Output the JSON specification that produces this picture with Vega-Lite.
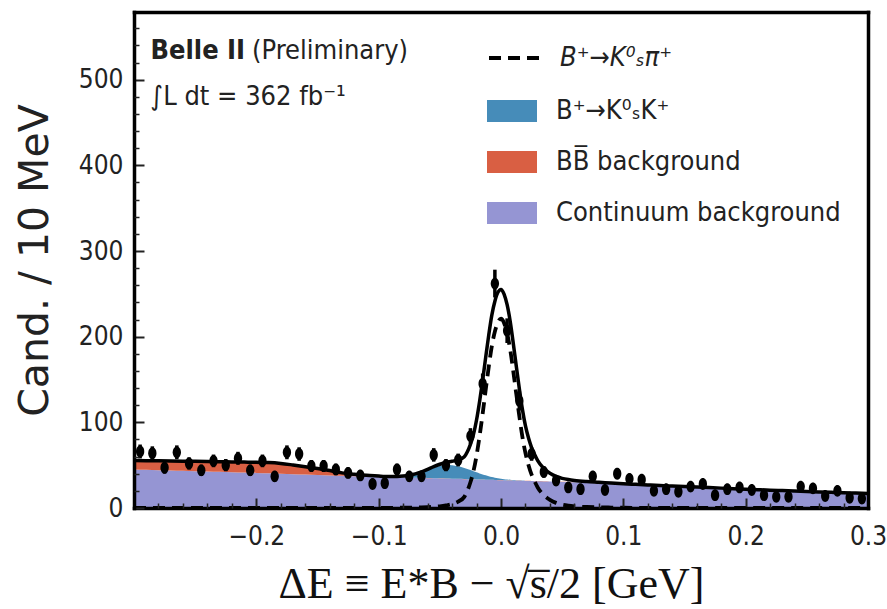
{
  "$schema": "https://vega.github.io/schema/vega-lite/v6.json",
  "width": 734,
  "height": 496,
  "autosize": "none",
  "padding": {"left": 134, "top": 12, "right": 19, "bottom": 101},
  "background": "white",
  "config": {"view": {"stroke": null}},
  "datasets": {
    "curves": [
      {"x": -0.30, "cont": 45.0, "bb": 55.5, "kk": 55.5, "sig": 0, "tot": 55.5},
      {"x": -0.29, "cont": 44.6, "bb": 55.3, "kk": 55.3, "sig": 0, "tot": 55.3},
      {"x": -0.28, "cont": 44.2, "bb": 55.1, "kk": 55.1, "sig": 0, "tot": 55.1},
      {"x": -0.27, "cont": 43.8, "bb": 54.9, "kk": 54.9, "sig": 0, "tot": 54.9},
      {"x": -0.26, "cont": 43.4, "bb": 54.7, "kk": 54.7, "sig": 0, "tot": 54.7},
      {"x": -0.25, "cont": 43.0, "bb": 54.5, "kk": 54.5, "sig": 0, "tot": 54.5},
      {"x": -0.24, "cont": 42.6, "bb": 54.3, "kk": 54.3, "sig": 0, "tot": 54.3},
      {"x": -0.23, "cont": 42.2, "bb": 54.1, "kk": 54.1, "sig": 0, "tot": 54.1},
      {"x": -0.22, "cont": 41.8, "bb": 53.8, "kk": 53.8, "sig": 0, "tot": 53.8},
      {"x": -0.21, "cont": 41.4, "bb": 53.6, "kk": 53.6, "sig": 0, "tot": 53.6},
      {"x": -0.20, "cont": 41.0, "bb": 53.3, "kk": 53.3, "sig": 0, "tot": 53.3},
      {"x": -0.19, "cont": 40.5, "bb": 53.0, "kk": 53.0, "sig": 0, "tot": 53.0},
      {"x": -0.18, "cont": 40.0, "bb": 52.0, "kk": 52.0, "sig": 0, "tot": 52.0},
      {"x": -0.17, "cont": 39.5, "bb": 50.2, "kk": 50.2, "sig": 0, "tot": 50.2},
      {"x": -0.16, "cont": 39.0, "bb": 48.2, "kk": 48.2, "sig": 0, "tot": 48.2},
      {"x": -0.15, "cont": 38.5, "bb": 46.0, "kk": 46.0, "sig": 0, "tot": 46.0},
      {"x": -0.14, "cont": 38.0, "bb": 43.8, "kk": 43.8, "sig": 0, "tot": 43.8},
      {"x": -0.13, "cont": 37.6, "bb": 41.0, "kk": 41.0, "sig": 0, "tot": 41.0},
      {"x": -0.12, "cont": 37.2, "bb": 39.4, "kk": 39.4, "sig": 0, "tot": 39.4},
      {"x": -0.11, "cont": 36.8, "bb": 38.1, "kk": 38.1, "sig": 0, "tot": 38.1},
      {"x": -0.10, "cont": 36.4, "bb": 37.2, "kk": 37.2, "sig": 0.1, "tot": 37.3},
      {"x": -0.095, "cont": 36.2, "bb": 36.8, "kk": 36.8, "sig": 0.1, "tot": 36.9},
      {"x": -0.09, "cont": 36.0, "bb": 36.5, "kk": 36.5, "sig": 0.2, "tot": 36.7},
      {"x": -0.085, "cont": 35.8, "bb": 36.2, "kk": 36.5, "sig": 0.25, "tot": 36.8},
      {"x": -0.08, "cont": 35.6, "bb": 35.9, "kk": 37.0, "sig": 0.3, "tot": 37.3},
      {"x": -0.075, "cont": 35.4, "bb": 35.7, "kk": 37.9, "sig": 0.4, "tot": 38.3},
      {"x": -0.07, "cont": 35.2, "bb": 35.4, "kk": 39.3, "sig": 0.5, "tot": 39.8},
      {"x": -0.065, "cont": 35.0, "bb": 35.2, "kk": 41.4, "sig": 0.7, "tot": 42.1},
      {"x": -0.06, "cont": 34.8, "bb": 35.0, "kk": 44.1, "sig": 1.0, "tot": 45.1},
      {"x": -0.055, "cont": 34.6, "bb": 34.8, "kk": 46.9, "sig": 1.4, "tot": 48.3},
      {"x": -0.05, "cont": 34.4, "bb": 34.6, "kk": 49.1, "sig": 2.0, "tot": 51.1},
      {"x": -0.045, "cont": 34.2, "bb": 34.4, "kk": 50.3, "sig": 3.0, "tot": 53.3},
      {"x": -0.04, "cont": 34.0, "bb": 34.2, "kk": 50.0, "sig": 4.5, "tot": 54.5},
      {"x": -0.035, "cont": 33.8, "bb": 34.0, "kk": 48.8, "sig": 7.5, "tot": 56.3},
      {"x": -0.03, "cont": 33.6, "bb": 33.8, "kk": 46.8, "sig": 13, "tot": 59.8},
      {"x": -0.0275, "cont": 33.5, "bb": 33.7, "kk": 45.6, "sig": 20, "tot": 65.6},
      {"x": -0.025, "cont": 33.4, "bb": 33.6, "kk": 44.3, "sig": 30, "tot": 74.3},
      {"x": -0.0225, "cont": 33.3, "bb": 33.5, "kk": 43.0, "sig": 43, "tot": 86.0},
      {"x": -0.02, "cont": 33.2, "bb": 33.4, "kk": 41.7, "sig": 61, "tot": 102.7},
      {"x": -0.0175, "cont": 33.1, "bb": 33.3, "kk": 40.4, "sig": 84, "tot": 124.4},
      {"x": -0.015, "cont": 33.0, "bb": 33.2, "kk": 39.2, "sig": 110, "tot": 149.2},
      {"x": -0.0125, "cont": 32.9, "bb": 33.1, "kk": 38.1, "sig": 138, "tot": 176.1},
      {"x": -0.01, "cont": 32.8, "bb": 33.0, "kk": 37.1, "sig": 165, "tot": 202.1},
      {"x": -0.0075, "cont": 32.7, "bb": 32.9, "kk": 36.2, "sig": 189, "tot": 225.2},
      {"x": -0.005, "cont": 32.6, "bb": 32.8, "kk": 35.4, "sig": 206, "tot": 241.4},
      {"x": -0.0025, "cont": 32.5, "bb": 32.7, "kk": 34.8, "sig": 217, "tot": 251.8},
      {"x": 0.0, "cont": 32.4, "bb": 32.6, "kk": 34.2, "sig": 221, "tot": 255.2},
      {"x": 0.0025, "cont": 32.3, "bb": 32.5, "kk": 33.7, "sig": 216, "tot": 249.7},
      {"x": 0.005, "cont": 32.2, "bb": 32.4, "kk": 33.3, "sig": 204, "tot": 237.3},
      {"x": 0.0075, "cont": 32.1, "bb": 32.3, "kk": 33.0, "sig": 185, "tot": 218.0},
      {"x": 0.01, "cont": 32.0, "bb": 32.2, "kk": 32.7, "sig": 160, "tot": 192.7},
      {"x": 0.0125, "cont": 31.9, "bb": 32.1, "kk": 32.5, "sig": 133, "tot": 165.5},
      {"x": 0.015, "cont": 31.8, "bb": 32.0, "kk": 32.3, "sig": 107, "tot": 139.3},
      {"x": 0.0175, "cont": 31.7, "bb": 31.9, "kk": 32.1, "sig": 83, "tot": 115.1},
      {"x": 0.02, "cont": 31.6, "bb": 31.8, "kk": 31.9, "sig": 64, "tot": 95.9},
      {"x": 0.0225, "cont": 31.5, "bb": 31.7, "kk": 31.7, "sig": 50, "tot": 81.7},
      {"x": 0.025, "cont": 31.4, "bb": 31.6, "kk": 31.6, "sig": 39, "tot": 70.6},
      {"x": 0.0275, "cont": 31.3, "bb": 31.5, "kk": 31.5, "sig": 31, "tot": 62.5},
      {"x": 0.03, "cont": 31.2, "bb": 31.4, "kk": 31.4, "sig": 24, "tot": 55.4},
      {"x": 0.035, "cont": 31.0, "bb": 31.2, "kk": 31.2, "sig": 15, "tot": 46.2},
      {"x": 0.04, "cont": 30.8, "bb": 31.0, "kk": 31.0, "sig": 9.5, "tot": 40.5},
      {"x": 0.045, "cont": 30.6, "bb": 30.8, "kk": 30.8, "sig": 6, "tot": 36.8},
      {"x": 0.05, "cont": 30.4, "bb": 30.6, "kk": 30.6, "sig": 4, "tot": 34.6},
      {"x": 0.055, "cont": 30.2, "bb": 30.4, "kk": 30.4, "sig": 2.8, "tot": 33.2},
      {"x": 0.06, "cont": 30.0, "bb": 30.2, "kk": 30.2, "sig": 2.0, "tot": 32.2},
      {"x": 0.07, "cont": 29.5, "bb": 29.7, "kk": 29.7, "sig": 1.2, "tot": 30.9},
      {"x": 0.08, "cont": 29.0, "bb": 29.2, "kk": 29.2, "sig": 0.8, "tot": 30.0},
      {"x": 0.09, "cont": 28.4, "bb": 28.6, "kk": 28.6, "sig": 0.5, "tot": 29.1},
      {"x": 0.10, "cont": 27.8, "bb": 28.0, "kk": 28.0, "sig": 0.3, "tot": 28.3},
      {"x": 0.11, "cont": 27.2, "bb": 27.4, "kk": 27.4, "sig": 0.2, "tot": 27.6},
      {"x": 0.12, "cont": 26.6, "bb": 26.8, "kk": 26.8, "sig": 0.1, "tot": 26.9},
      {"x": 0.13, "cont": 26.0, "bb": 26.2, "kk": 26.2, "sig": 0, "tot": 26.2},
      {"x": 0.14, "cont": 25.4, "bb": 25.6, "kk": 25.6, "sig": 0, "tot": 25.6},
      {"x": 0.15, "cont": 24.8, "bb": 25.0, "kk": 25.0, "sig": 0, "tot": 25.0},
      {"x": 0.16, "cont": 24.2, "bb": 24.4, "kk": 24.4, "sig": 0, "tot": 24.4},
      {"x": 0.17, "cont": 23.6, "bb": 23.8, "kk": 23.8, "sig": 0, "tot": 23.8},
      {"x": 0.18, "cont": 23.0, "bb": 23.2, "kk": 23.2, "sig": 0, "tot": 23.2},
      {"x": 0.19, "cont": 22.4, "bb": 22.6, "kk": 22.6, "sig": 0, "tot": 22.6},
      {"x": 0.20, "cont": 21.8, "bb": 22.0, "kk": 22.0, "sig": 0, "tot": 22.0},
      {"x": 0.21, "cont": 21.2, "bb": 21.4, "kk": 21.4, "sig": 0, "tot": 21.4},
      {"x": 0.22, "cont": 20.6, "bb": 20.8, "kk": 20.8, "sig": 0, "tot": 20.8},
      {"x": 0.23, "cont": 20.1, "bb": 20.3, "kk": 20.3, "sig": 0, "tot": 20.3},
      {"x": 0.24, "cont": 19.6, "bb": 19.8, "kk": 19.8, "sig": 0, "tot": 19.8},
      {"x": 0.25, "cont": 19.1, "bb": 19.3, "kk": 19.3, "sig": 0, "tot": 19.3},
      {"x": 0.26, "cont": 18.6, "bb": 18.8, "kk": 18.8, "sig": 0, "tot": 18.8},
      {"x": 0.27, "cont": 18.1, "bb": 18.3, "kk": 18.3, "sig": 0, "tot": 18.3},
      {"x": 0.28, "cont": 17.6, "bb": 17.8, "kk": 17.8, "sig": 0, "tot": 17.8},
      {"x": 0.29, "cont": 17.2, "bb": 17.4, "kk": 17.4, "sig": 0, "tot": 17.4},
      {"x": 0.30, "cont": 16.8, "bb": 17.0, "kk": 17.0, "sig": 0, "tot": 17.0}
    ],
    "bins": [
      {"x": -0.295, "n": 66, "e": 8.1}, {"x": -0.285, "n": 64, "e": 8.0},
      {"x": -0.275, "n": 47, "e": 6.9}, {"x": -0.265, "n": 65, "e": 8.1},
      {"x": -0.255, "n": 52, "e": 7.2}, {"x": -0.245, "n": 44, "e": 6.6},
      {"x": -0.235, "n": 55, "e": 7.4}, {"x": -0.225, "n": 50, "e": 7.1},
      {"x": -0.215, "n": 58, "e": 7.6}, {"x": -0.205, "n": 44, "e": 6.6},
      {"x": -0.195, "n": 55, "e": 7.4}, {"x": -0.185, "n": 37, "e": 6.1},
      {"x": -0.175, "n": 65, "e": 8.1}, {"x": -0.165, "n": 63, "e": 7.9},
      {"x": -0.155, "n": 49, "e": 7.0}, {"x": -0.145, "n": 49, "e": 7.0},
      {"x": -0.135, "n": 45, "e": 6.7}, {"x": -0.125, "n": 41, "e": 6.4},
      {"x": -0.115, "n": 38, "e": 6.2}, {"x": -0.105, "n": 28, "e": 5.3},
      {"x": -0.095, "n": 29, "e": 5.4}, {"x": -0.085, "n": 45, "e": 6.7},
      {"x": -0.075, "n": 37, "e": 6.1}, {"x": -0.065, "n": 37, "e": 6.1},
      {"x": -0.055, "n": 62, "e": 7.9}, {"x": -0.045, "n": 50, "e": 7.1},
      {"x": -0.035, "n": 56, "e": 7.5}, {"x": -0.025, "n": 84, "e": 9.2},
      {"x": -0.015, "n": 145, "e": 12.0}, {"x": -0.005, "n": 262, "e": 16.2},
      {"x": 0.005, "n": 207, "e": 14.4}, {"x": 0.015, "n": 125, "e": 11.2},
      {"x": 0.025, "n": 63, "e": 7.9}, {"x": 0.035, "n": 42, "e": 6.5},
      {"x": 0.045, "n": 32, "e": 5.7}, {"x": 0.055, "n": 24, "e": 4.9},
      {"x": 0.065, "n": 22, "e": 4.7}, {"x": 0.075, "n": 37, "e": 6.1},
      {"x": 0.085, "n": 21, "e": 4.6}, {"x": 0.095, "n": 40, "e": 6.3},
      {"x": 0.105, "n": 34, "e": 5.8}, {"x": 0.115, "n": 33, "e": 5.7},
      {"x": 0.125, "n": 20, "e": 4.5}, {"x": 0.135, "n": 22, "e": 4.7},
      {"x": 0.145, "n": 19, "e": 4.4}, {"x": 0.155, "n": 25, "e": 5.0},
      {"x": 0.165, "n": 28, "e": 5.3}, {"x": 0.175, "n": 15, "e": 3.9},
      {"x": 0.185, "n": 22, "e": 4.7}, {"x": 0.195, "n": 24, "e": 4.9},
      {"x": 0.205, "n": 21, "e": 4.6}, {"x": 0.215, "n": 15, "e": 3.9},
      {"x": 0.225, "n": 13, "e": 3.6}, {"x": 0.235, "n": 13, "e": 3.6},
      {"x": 0.245, "n": 25, "e": 5.0}, {"x": 0.255, "n": 23, "e": 4.8},
      {"x": 0.265, "n": 14, "e": 3.7}, {"x": 0.275, "n": 20, "e": 4.5},
      {"x": 0.285, "n": 12, "e": 3.5}, {"x": 0.295, "n": 11, "e": 3.3}
    ],
    "labels": [
      {"part": "bold"}
    ]
  },
  "resolve": {"axis": {"x": "independent", "y": "independent"}},
  "layer": [
    {
      "data": {"name": "curves"},
      "mark": {"type": "area", "opacity": 1, "interpolate": "monotone"},
      "encoding": {
        "x": {"field": "x", "type": "quantitative",
          "scale": {"domain": [-0.3, 0.3], "nice": false, "zero": false},
          "axis": {"orient": "bottom", "values": [-0.2, -0.1, 0, 0.1, 0.2, 0.3], "format": ".1f",
            "domain": true, "domainColor": "black", "domainWidth": 3.5, "domainCap": "square",
            "grid": false, "tickSize": -10, "tickWidth": 2, "tickColor": "#222",
            "labelFont": "DejaVu Sans Condensed, DejaVu Sans", "labelFontSize": 26, "labelColor": "#222",
            "labelPadding": 25, "labelFlush": false, "labelOverlap": false,
            "title": "ΔE ≡ E*B − √s̅/2 [GeV]", "titleFont": "Liberation Serif", "titleFontSize": 44,
            "titleFontWeight": "normal", "titleColor": "#111", "titleX": 357, "titleY": 89,
            "titleAlign": "center", "titleBaseline": "alphabetic", "zindex": 1}},
        "y": {"field": "cont", "type": "quantitative",
          "scale": {"domain": [0, 579], "nice": false, "zero": true},
          "axis": {"orient": "left", "values": [0, 100, 200, 300, 400, 500],
            "domain": true, "domainColor": "black", "domainWidth": 3.5, "domainCap": "square",
            "grid": false, "tickSize": -10, "tickWidth": 2, "tickColor": "#222",
            "labelFont": "DejaVu Sans Condensed, DejaVu Sans", "labelFontSize": 26, "labelColor": "#222",
            "labelPadding": 21, "labelFlush": false, "labelOverlap": false,
            "title": "Cand. / 10 MeV", "titleFont": "DejaVu Sans", "titleFontSize": 41,
            "titleFontWeight": "normal", "titleColor": "#222", "titleX": -87, "titleY": 248,
            "titleAngle": -90, "titleAlign": "center", "titleBaseline": "alphabetic", "zindex": 1}},
        "y2": {"datum": 0},
        "color": {"datum": "Continuum background", "type": "nominal",
          "scale": {"domain": ["B⁺→K⁰ₛK⁺", "BB̅ background", "Continuum background"],
                    "range": ["#468cb9", "#d95f43", "#9595d3"]},
          "legend": {"orient": "none", "legendX": 353, "legendY": 74, "title": null,
            "symbolType": "M-1,-0.44H1V0.44H-1Z", "symbolSize": 2500, "symbolStrokeWidth": 0,
            "symbolOpacity": 1, "labelFont": "DejaVu Sans Condensed, DejaVu Sans", "labelFontSize": 27,
            "labelColor": "#222", "labelOffset": 19, "rowPadding": 13, "padding": 0, "labelLimit": 500}}
      }
    },
    {
      "data": {"name": "curves"},
      "mark": {"type": "area", "opacity": 1, "interpolate": "monotone"},
      "encoding": {
        "x": {"field": "x", "type": "quantitative",
          "scale": {"domain": [-0.3, 0.3], "nice": false, "zero": false},
          "axis": {"orient": "bottom", "values": [-0.28, -0.26, -0.24, -0.22, -0.18, -0.16, -0.14, -0.12, -0.08, -0.06, -0.04, -0.02, 0.02, 0.04, 0.06, 0.08, 0.12, 0.14, 0.16, 0.18, 0.22, 0.24, 0.26, 0.28],
            "labels": false, "domain": false, "grid": false, "tickSize": -5, "tickWidth": 1.5,
            "tickColor": "#222", "title": null, "zindex": 1}},
        "y": {"field": "bb", "type": "quantitative",
          "scale": {"domain": [0, 579], "nice": false},
          "axis": {"orient": "left", "values": [20, 40, 60, 80, 120, 140, 160, 180, 220, 240, 260, 280, 320, 340, 360, 380, 420, 440, 460, 480, 520, 540, 560],
            "labels": false, "domain": false, "grid": false, "tickSize": -5, "tickWidth": 1.5,
            "tickColor": "#222", "title": null, "zindex": 1}},
        "y2": {"field": "cont"},
        "color": {"datum": "BB̅ background", "type": "nominal"}
      }
    },
    {
      "data": {"name": "curves"},
      "mark": {"type": "area", "opacity": 1, "interpolate": "monotone"},
      "encoding": {
        "x": {"field": "x", "type": "quantitative",
          "scale": {"domain": [-0.3, 0.3], "nice": false, "zero": false},
          "axis": {"orient": "top", "ticks": false, "labels": false, "grid": false,
            "domain": true, "domainColor": "black", "domainWidth": 3.5, "domainCap": "square",
            "title": null, "zindex": 1}},
        "y": {"field": "kk", "type": "quantitative",
          "scale": {"domain": [0, 579], "nice": false},
          "axis": {"orient": "right", "ticks": false, "labels": false, "grid": false,
            "domain": true, "domainColor": "black", "domainWidth": 3.5, "domainCap": "square",
            "title": null, "zindex": 1}},
        "y2": {"field": "bb"},
        "color": {"datum": "B⁺→K⁰ₛK⁺", "type": "nominal"}
      }
    },
    {
      "data": {"name": "curves"},
      "mark": {"type": "line", "color": "black", "strokeWidth": 3.5, "interpolate": "monotone"},
      "encoding": {
        "x": {"field": "x", "type": "quantitative", "axis": null,
          "scale": {"domain": [-0.3, 0.3], "nice": false, "zero": false}},
        "y": {"field": "tot", "type": "quantitative", "axis": null,
          "scale": {"domain": [0, 579], "nice": false}}
      }
    },
    {
      "data": {"name": "curves"},
      "mark": {"type": "line", "color": "black", "strokeWidth": 3.8, "interpolate": "monotone", "strokeCap": "butt"},
      "encoding": {
        "x": {"field": "x", "type": "quantitative", "axis": null,
          "scale": {"domain": [-0.3, 0.3], "nice": false, "zero": false}},
        "y": {"field": "sig", "type": "quantitative", "axis": null,
          "scale": {"domain": [0, 579], "nice": false}},
        "strokeDash": {"datum": "B⁺→K⁰ₛπ⁺", "type": "nominal",
          "scale": {"range": [[12, 7]]},
          "legend": {"orient": "none", "legendX": 353, "legendY": 19, "title": null,
            "symbolType": "stroke", "symbolSize": 2500, "symbolStrokeWidth": 4,
            "symbolStrokeColor": "black", "labelFont": "DejaVu Sans Condensed, DejaVu Sans",
            "labelFontSize": 27, "labelFontStyle": "italic", "labelColor": "#222",
            "labelOffset": 19, "padding": 0, "labelLimit": 500}}
      }
    },
    {
      "data": {"name": "bins"},
      "mark": {"type": "errorbar", "thickness": 3.5, "color": "black"},
      "encoding": {
        "x": {"field": "x", "type": "quantitative", "axis": null,
          "scale": {"domain": [-0.3, 0.3], "nice": false, "zero": false}},
        "y": {"field": "n", "type": "quantitative", "axis": null,
          "scale": {"domain": [0, 579], "nice": false}},
        "yError": {"field": "e"}
      }
    },
    {
      "data": {"name": "bins"},
      "mark": {"type": "point", "filled": true, "opacity": 1, "color": "black", "size": 140,
        "shape": "M-0.7,0A0.7,1 0 1,1 0.7,0A0.7,1 0 1,1 -0.7,0Z"},
      "encoding": {
        "x": {"field": "x", "type": "quantitative", "axis": null,
          "scale": {"domain": [-0.3, 0.3], "nice": false, "zero": false}},
        "y": {"field": "n", "type": "quantitative", "axis": null,
          "scale": {"domain": [0, 579], "nice": false}}
      }
    },
    {
      "data": {"name": "labels"},
      "mark": {"type": "text", "text": "Belle II", "font": "DejaVu Sans Condensed, DejaVu Sans",
        "fontSize": 27, "fontWeight": "bold", "align": "left", "baseline": "alphabetic", "color": "#222"},
      "encoding": {
        "x": {"datum": -0.2865, "type": "quantitative", "axis": null,
          "scale": {"domain": [-0.3, 0.3], "nice": false, "zero": false}},
        "y": {"datum": 524, "type": "quantitative", "axis": null,
          "scale": {"domain": [0, 579], "nice": false}}
      }
    },
    {
      "data": {"name": "labels"},
      "mark": {"type": "text", "text": "(Preliminary)", "font": "DejaVu Sans Condensed, DejaVu Sans",
        "fontSize": 27, "align": "left", "baseline": "alphabetic", "color": "#222"},
      "encoding": {
        "x": {"datum": -0.2035, "type": "quantitative", "axis": null,
          "scale": {"domain": [-0.3, 0.3], "nice": false, "zero": false}},
        "y": {"datum": 524, "type": "quantitative", "axis": null,
          "scale": {"domain": [0, 579], "nice": false}}
      }
    },
    {
      "data": {"name": "labels"},
      "mark": {"type": "text", "text": "∫L dt = 362 fb⁻¹", "font": "DejaVu Sans Condensed, DejaVu Sans",
        "fontSize": 27, "align": "left", "baseline": "alphabetic", "color": "#222"},
      "encoding": {
        "x": {"datum": -0.2865, "type": "quantitative", "axis": null,
          "scale": {"domain": [-0.3, 0.3], "nice": false, "zero": false}},
        "y": {"datum": 470, "type": "quantitative", "axis": null,
          "scale": {"domain": [0, 579], "nice": false}}
      }
    }
  ]
}
